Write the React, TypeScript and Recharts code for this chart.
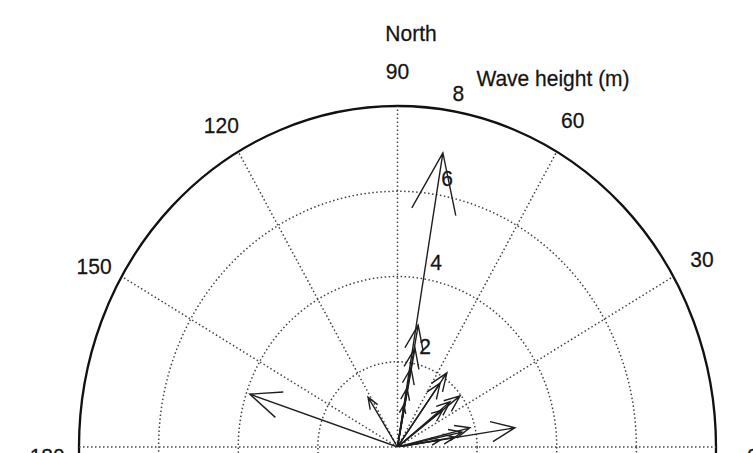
import React from 'react';
import * as RC from 'recharts';

const { ComposedChart, XAxis, YAxis, Line, ReferenceLine } = RC;

// Compass plot of wave direction vectors (upper half, angles in degrees from east).
const CHART_W = 753;
const CHART_H = 453;
const MARGIN = { top: 106, right: 37, bottom: 6, left: 79 };
const R_MAX = 8;

const angleTicks = [0, 30, 60, 90, 120, 150, 180];
const ringValues = [2, 4, 6, 8];
const radiusLabels = ['2', '4', '6', '8'];

// Wave vectors: east (u) and north (v) components, metres.
const waveU = [1.14, -3.71, -0.74, 2.95, 0.52, 0.44, 0.34, 0.24, 0.16, 1.24, 1.07, 1.57, 1.32, 1.14, 1.82, 1.62, 1.44, 1.07];
const waveV = [6.9, 1.24, 1.17, 0.45, 2.86, 2.32, 1.85, 1.38, 0.99, 1.74, 1.5, 1.2, 1.06, 0.87, 0.45, 0.35, 0.23, 0.16];

const titleText = 'North';
const unitText = 'Wave height (m)';

const FONT = 'Liberation Sans, Arial, Helvetica, sans-serif';
const TEXT_STRETCH = 1.07;
const DOT = '1.5 2.5';
const GRID_COLOR = '#444';
const TEXT_COLOR = '#141414';

// small per-label offsets (px) for the angle labels
const angleNudge: Record<number, [number, number]> = {
  0: [5, 9],
  30: [1, 0],
  60: [0, -2],
  90: [0, -1],
  120: [-1, 3],
  150: [0, 7],
  180: [0, 9],
};

// MATLAB-style compass arrow: origin -> tip -> barb -> tip -> barb
function arrowPath(u: number, v: number) {
  return [
    { x: 0, y: 0 },
    { x: u, y: v },
    { x: 0.8 * u - 0.08 * v, y: 0.8 * v + 0.08 * u },
    { x: u, y: v },
    { x: 0.8 * u + 0.08 * v, y: 0.8 * v - 0.08 * u },
  ];
}

const arrows = waveU.map((u, i) => arrowPath(u, waveV[i]));

const fallbackArea = () => ({
  x: MARGIN.left,
  y: MARGIN.top,
  width: CHART_W - MARGIN.left - MARGIN.right,
  height: CHART_H - MARGIN.top - MARGIN.bottom,
});
const usePlotAreaSafe: () => any = (RC as any).usePlotArea || fallbackArea;

function Stretched({ x, y, children, anchor = 'middle', baseline = 'central' }: any) {
  return (
    <text
      transform={`translate(${x} ${y}) scale(1 ${TEXT_STRETCH})`}
      textAnchor={anchor}
      dominantBaseline={baseline}
      fontFamily={FONT}
      fontSize={21}
      fill={TEXT_COLOR}
      stroke={TEXT_COLOR}
      strokeWidth={0.25}
    >
      {children}
    </text>
  );
}

function CompassFrame() {
  const area = usePlotAreaSafe() || fallbackArea();
  const cx = area.x + area.width / 2;
  const cy = area.y + area.height;
  const kx = area.width / 2 / R_MAX;
  const ky = area.height / R_MAX;
  const px = (x: number) => cx + x * kx;
  const py = (y: number) => cy - y * ky;
  const a82 = (82 * Math.PI) / 180;

  return (
    <g>
      {ringValues.map((r) => (
        <ellipse
          key={`ring-${r}`}
          cx={cx}
          cy={cy}
          rx={r * kx}
          ry={r * ky}
          fill="none"
          stroke={r === R_MAX ? '#111' : GRID_COLOR}
          strokeWidth={r === R_MAX ? 2.3 : 1.5}
          strokeDasharray={r === R_MAX ? undefined : DOT}
        />
      ))}
      {angleTicks.map((deg) => {
        const t = (deg * Math.PI) / 180;
        const [dx, dy] = angleNudge[deg] || [0, 0];
        return (
          <Stretched key={`ang-${deg}`} x={px(1.1 * R_MAX * Math.cos(t)) + dx} y={py(1.1 * R_MAX * Math.sin(t)) + dy}>
            {String(deg)}
          </Stretched>
        );
      })}
      {ringValues.map((r, i) => {
        const rr = r + 0.1;
        return (
          <Stretched
            key={`rad-${r}`}
            x={px(rr * Math.cos(a82)) + 10}
            y={py(rr * Math.sin(a82)) - 4}
            anchor="start"
            baseline="auto"
          >
            {radiusLabels[i]}
          </Stretched>
        );
      })}
      <Stretched x={411} y={33}>{titleText}</Stretched>
      <Stretched x={553} y={78}>{unitText}</Stretched>
    </g>
  );
}

export default function App() {
  return (
    <div style={{ position: 'absolute', left: 0, top: 0, width: CHART_W, height: CHART_H, background: '#fff', overflow: 'hidden' }}>
      <ComposedChart width={CHART_W} height={CHART_H} margin={MARGIN}>
        <XAxis type="number" dataKey="x" domain={[-R_MAX, R_MAX]} allowDataOverflow hide />
        <YAxis type="number" dataKey="y" domain={[0, R_MAX]} allowDataOverflow hide />
        <CompassFrame />
        <ReferenceLine
          segment={[{ x: -R_MAX, y: 0 }, { x: R_MAX, y: 0 }]}
          stroke={GRID_COLOR}
          strokeWidth={1.5}
          strokeDasharray={DOT}
          ifOverflow="visible"
        />
        {angleTicks
          .filter((d) => d !== 0 && d !== 180)
          .map((deg) => {
            const t = (deg * Math.PI) / 180;
            return (
              <ReferenceLine
                key={`spoke-${deg}`}
                segment={[{ x: 0, y: 0 }, { x: R_MAX * Math.cos(t), y: R_MAX * Math.sin(t) }]}
                stroke={GRID_COLOR}
                strokeWidth={1.5}
                strokeDasharray={DOT}
                ifOverflow="visible"
              />
            );
          })}
        {arrows.map((pts, i) => (
          <Line
            key={`arrow-${i}`}
            data={pts}
            dataKey="y"
            type="linear"
            stroke="#1e1e1e"
            strokeWidth={1.4}
            dot={false}
            activeDot={false}
            isAnimationActive={false}
            legendType="none"
          />
        ))}
      </ComposedChart>
    </div>
  );
}
